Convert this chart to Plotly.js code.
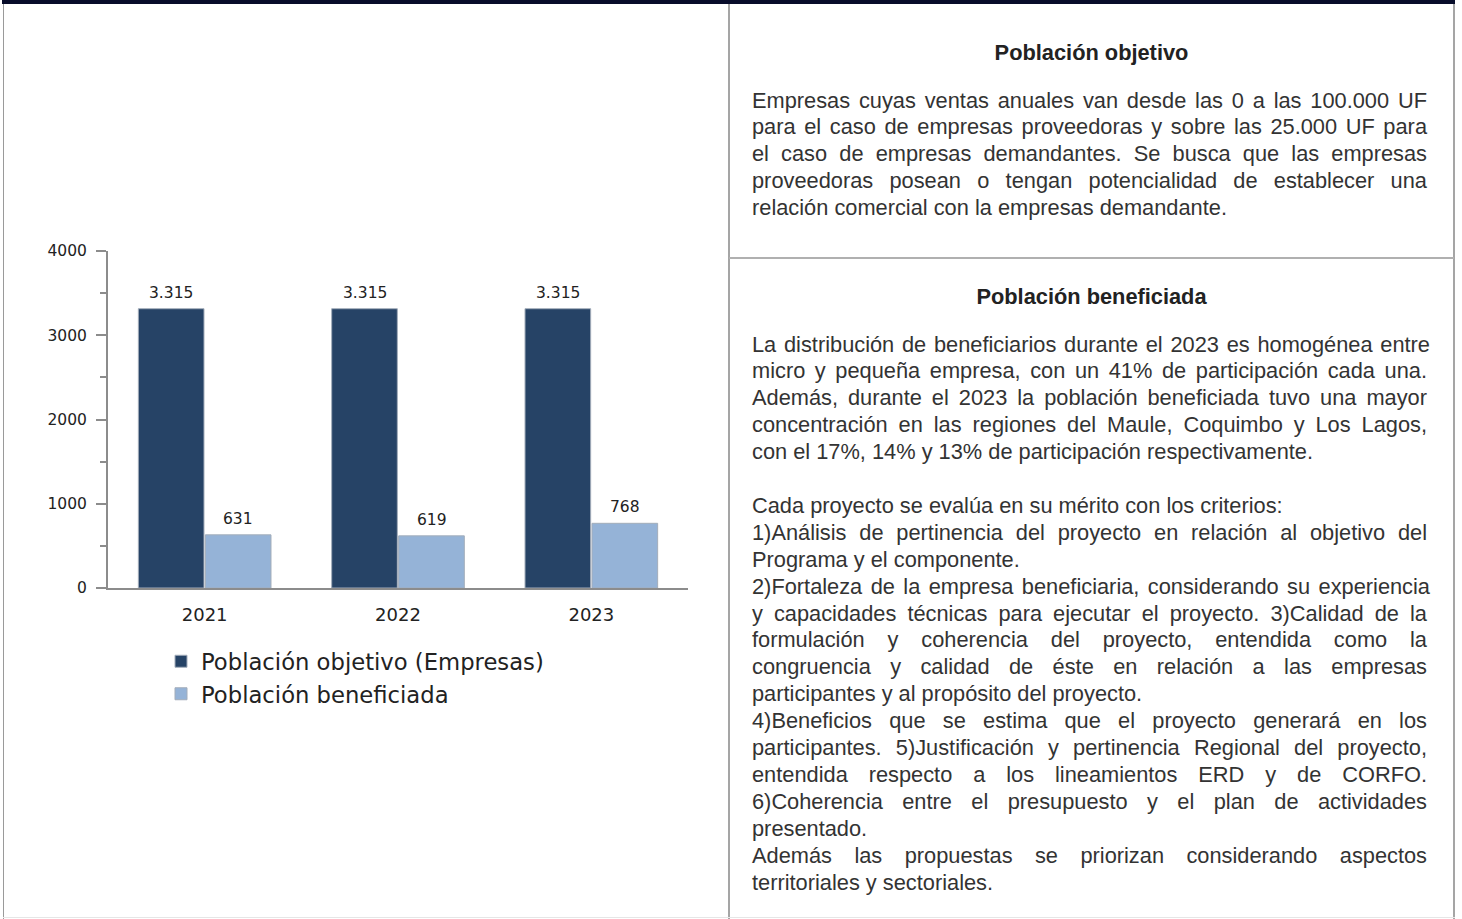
<!DOCTYPE html>
<html>
<head>
<meta charset="utf-8">
<script src="https://cdn.plot.ly/plotly-3.0.1.min.js"></script>
<style>
  html, body { margin: 0; padding: 0; background: #fff; }
  body { width: 1462px; height: 919px; position: relative; overflow: hidden; }
  #chart { position: absolute; left: 0; top: 0; width: 729px; height: 919px; }
  .line { position: absolute; }
  .txt { position: absolute; left: 752px; width: 675px; font-family: "Liberation Sans", Arial, sans-serif;
         font-size: 21.8px; line-height: 26.9px; color: #333; }
  .txt div { white-space: nowrap; }
  .txt div.j { text-align: justify; text-align-last: justify; white-space: normal; }
  .head { position: absolute; left: 729px; width: 725px; text-align: center; font-family: "Liberation Sans", Arial, sans-serif;
          font-weight: bold; font-size: 21.8px; line-height: 27px; color: #222; }
</style>
</head>
<body>
<div class="line" style="left:2px;top:0;width:1453px;height:4px;background:#070c2a;"></div>
<div class="line" style="left:3px;top:4px;width:1px;height:915px;background:#9a9a9a;"></div>
<div class="line" style="left:728px;top:4px;width:2px;height:915px;background:#a5a5a5;"></div>
<div class="line" style="left:1453px;top:4px;width:2px;height:915px;background:#a5a5a5;"></div>
<div class="line" style="left:729px;top:257px;width:725px;height:2px;background:#b0b0b0;"></div>
<div class="line" style="left:3px;top:917px;width:1452px;height:1px;background:#e6e6e6;"></div>

<div id="chart"></div>

<div class="head" style="top:38.5px;">Población objetivo</div>
<div class="txt" style="top:87.5px;">
  <div class="j">Empresas cuyas ventas anuales van desde las 0 a las 100.000 UF</div>
  <div class="j">para el caso de empresas proveedoras y sobre las 25.000 UF para</div>
  <div class="j">el caso de empresas demandantes. Se busca que las empresas</div>
  <div class="j">proveedoras posean o tengan potencialidad de establecer una</div>
  <div>relación comercial con la empresas demandante.</div>
</div>

<div class="head" style="top:282.5px;">Población beneficiada</div>
<div class="txt" style="top:331.5px;">
  <div class="j" style="margin-right:-3px;">La distribución de beneficiarios durante el 2023 es homogénea entre</div>
  <div class="j">micro y pequeña empresa, con un 41% de participación cada una.</div>
  <div class="j">Además, durante el 2023 la población beneficiada tuvo una mayor</div>
  <div class="j">concentración en las regiones del Maule, Coquimbo y Los Lagos,</div>
  <div>con el 17%, 14% y 13% de participación respectivamente.</div>
  <div>&nbsp;</div>
  <div>Cada proyecto se evalúa en su mérito con los criterios:</div>
  <div class="j">1)Análisis de pertinencia del proyecto en relación al objetivo del</div>
  <div>Programa y el componente.</div>
  <div class="j" style="margin-right:-3px;">2)Fortaleza de la empresa beneficiaria, considerando su experiencia</div>
  <div class="j">y capacidades técnicas para ejecutar el proyecto. 3)Calidad de la</div>
  <div class="j">formulación y coherencia del proyecto, entendida como la</div>
  <div class="j">congruencia y calidad de éste en relación a las empresas</div>
  <div>participantes y al propósito del proyecto.</div>
  <div class="j">4)Beneficios que se estima que el proyecto generará en los</div>
  <div class="j">participantes. 5)Justificación y pertinencia Regional del proyecto,</div>
  <div class="j">entendida respecto a los lineamientos ERD y de CORFO.</div>
  <div class="j">6)Coherencia entre el presupuesto y el plan de actividades</div>
  <div>presentado.</div>
  <div class="j">Además las propuestas se priorizan considerando aspectos</div>
  <div>territoriales y sectoriales.</div>
</div>

<script>
const years = ["2021", "2022", "2023"];
const seriesNames = ["Población objetivo (Empresas)", "Población beneficiada"];
const objetivo = [3315, 3315, 3315];
const beneficiada = [631, 619, 768];
const colors = ["#264366", "#95b3d7"];

function fmt(v) { return String(v).replace(/\B(?=(\d{3})+(?!\d))/g, "."); }

const chartFont = "DejaVu Sans, Verdana, sans-serif";
const traces = [objetivo, beneficiada].map((vals, k) => ({
  type: "bar",
  name: seriesNames[k],
  x: years,
  y: vals,
  marker: { color: colors[k], line: { color: "#a3adba", width: 1 } },
  hoverinfo: "skip"
}));

const annotations = [];
[objetivo, beneficiada].forEach((vals, k) => {
  vals.forEach((v, i) => {
    annotations.push({
      x: i, y: v, xref: "x", yref: "y",
      text: fmt(v), showarrow: false,
      xanchor: "center", yanchor: "middle",
      xshift: k === 0 ? -33.5 : 33.5, yshift: 16,
      font: { family: chartFont, size: 15.5, color: "#222" }
    });
  });
});

const layout = {
  width: 729, height: 919,
  margin: { l: 108, r: 41, t: 251, b: 331, autoexpand: false },
  paper_bgcolor: "rgba(0,0,0,0)",
  plot_bgcolor: "rgba(0,0,0,0)",
  barmode: "group",
  bargap: 0.307,
  bargroupgap: 0.02,
  showlegend: true,
  font: { family: chartFont, color: "#222" },
  xaxis: {
    type: "category",
    showline: true, linecolor: "#8c8c8c", linewidth: 2,
    ticks: "", showgrid: false, zeroline: false,
    tickfont: { family: chartFont, size: 18, color: "#222" },
    ticklabelstandoff: 9,
    automargin: false,
    range: [-0.5, 2.5]
  },
  yaxis: {
    range: [0, 4000], dtick: 1000, tick0: 0,
    showline: true, linecolor: "#8c8c8c", linewidth: 2,
    ticks: "outside", ticklen: 10, tickwidth: 2, tickcolor: "#8c8c8c",
    minor: { dtick: 500, ticks: "outside", ticklen: 6, tickwidth: 2, tickcolor: "#8c8c8c" },
    showgrid: false, zeroline: false,
    tickfont: { family: chartFont, size: 15.5, color: "#222" },
    ticklabelstandoff: 6,
    automargin: false
  },
  legend: {
    xref: "container", yref: "container",
    x: 161 / 729, y: 1 - 640 / 919, xanchor: "left", yanchor: "top",
    orientation: "v",
    font: { family: chartFont, size: 22.7, color: "#222" },
    bgcolor: "rgba(0,0,0,0)"
  },
  annotations: annotations
};

Plotly.newPlot("chart", traces, layout, { displayModeBar: false, staticPlot: true });
</script>
</body>
</html>
